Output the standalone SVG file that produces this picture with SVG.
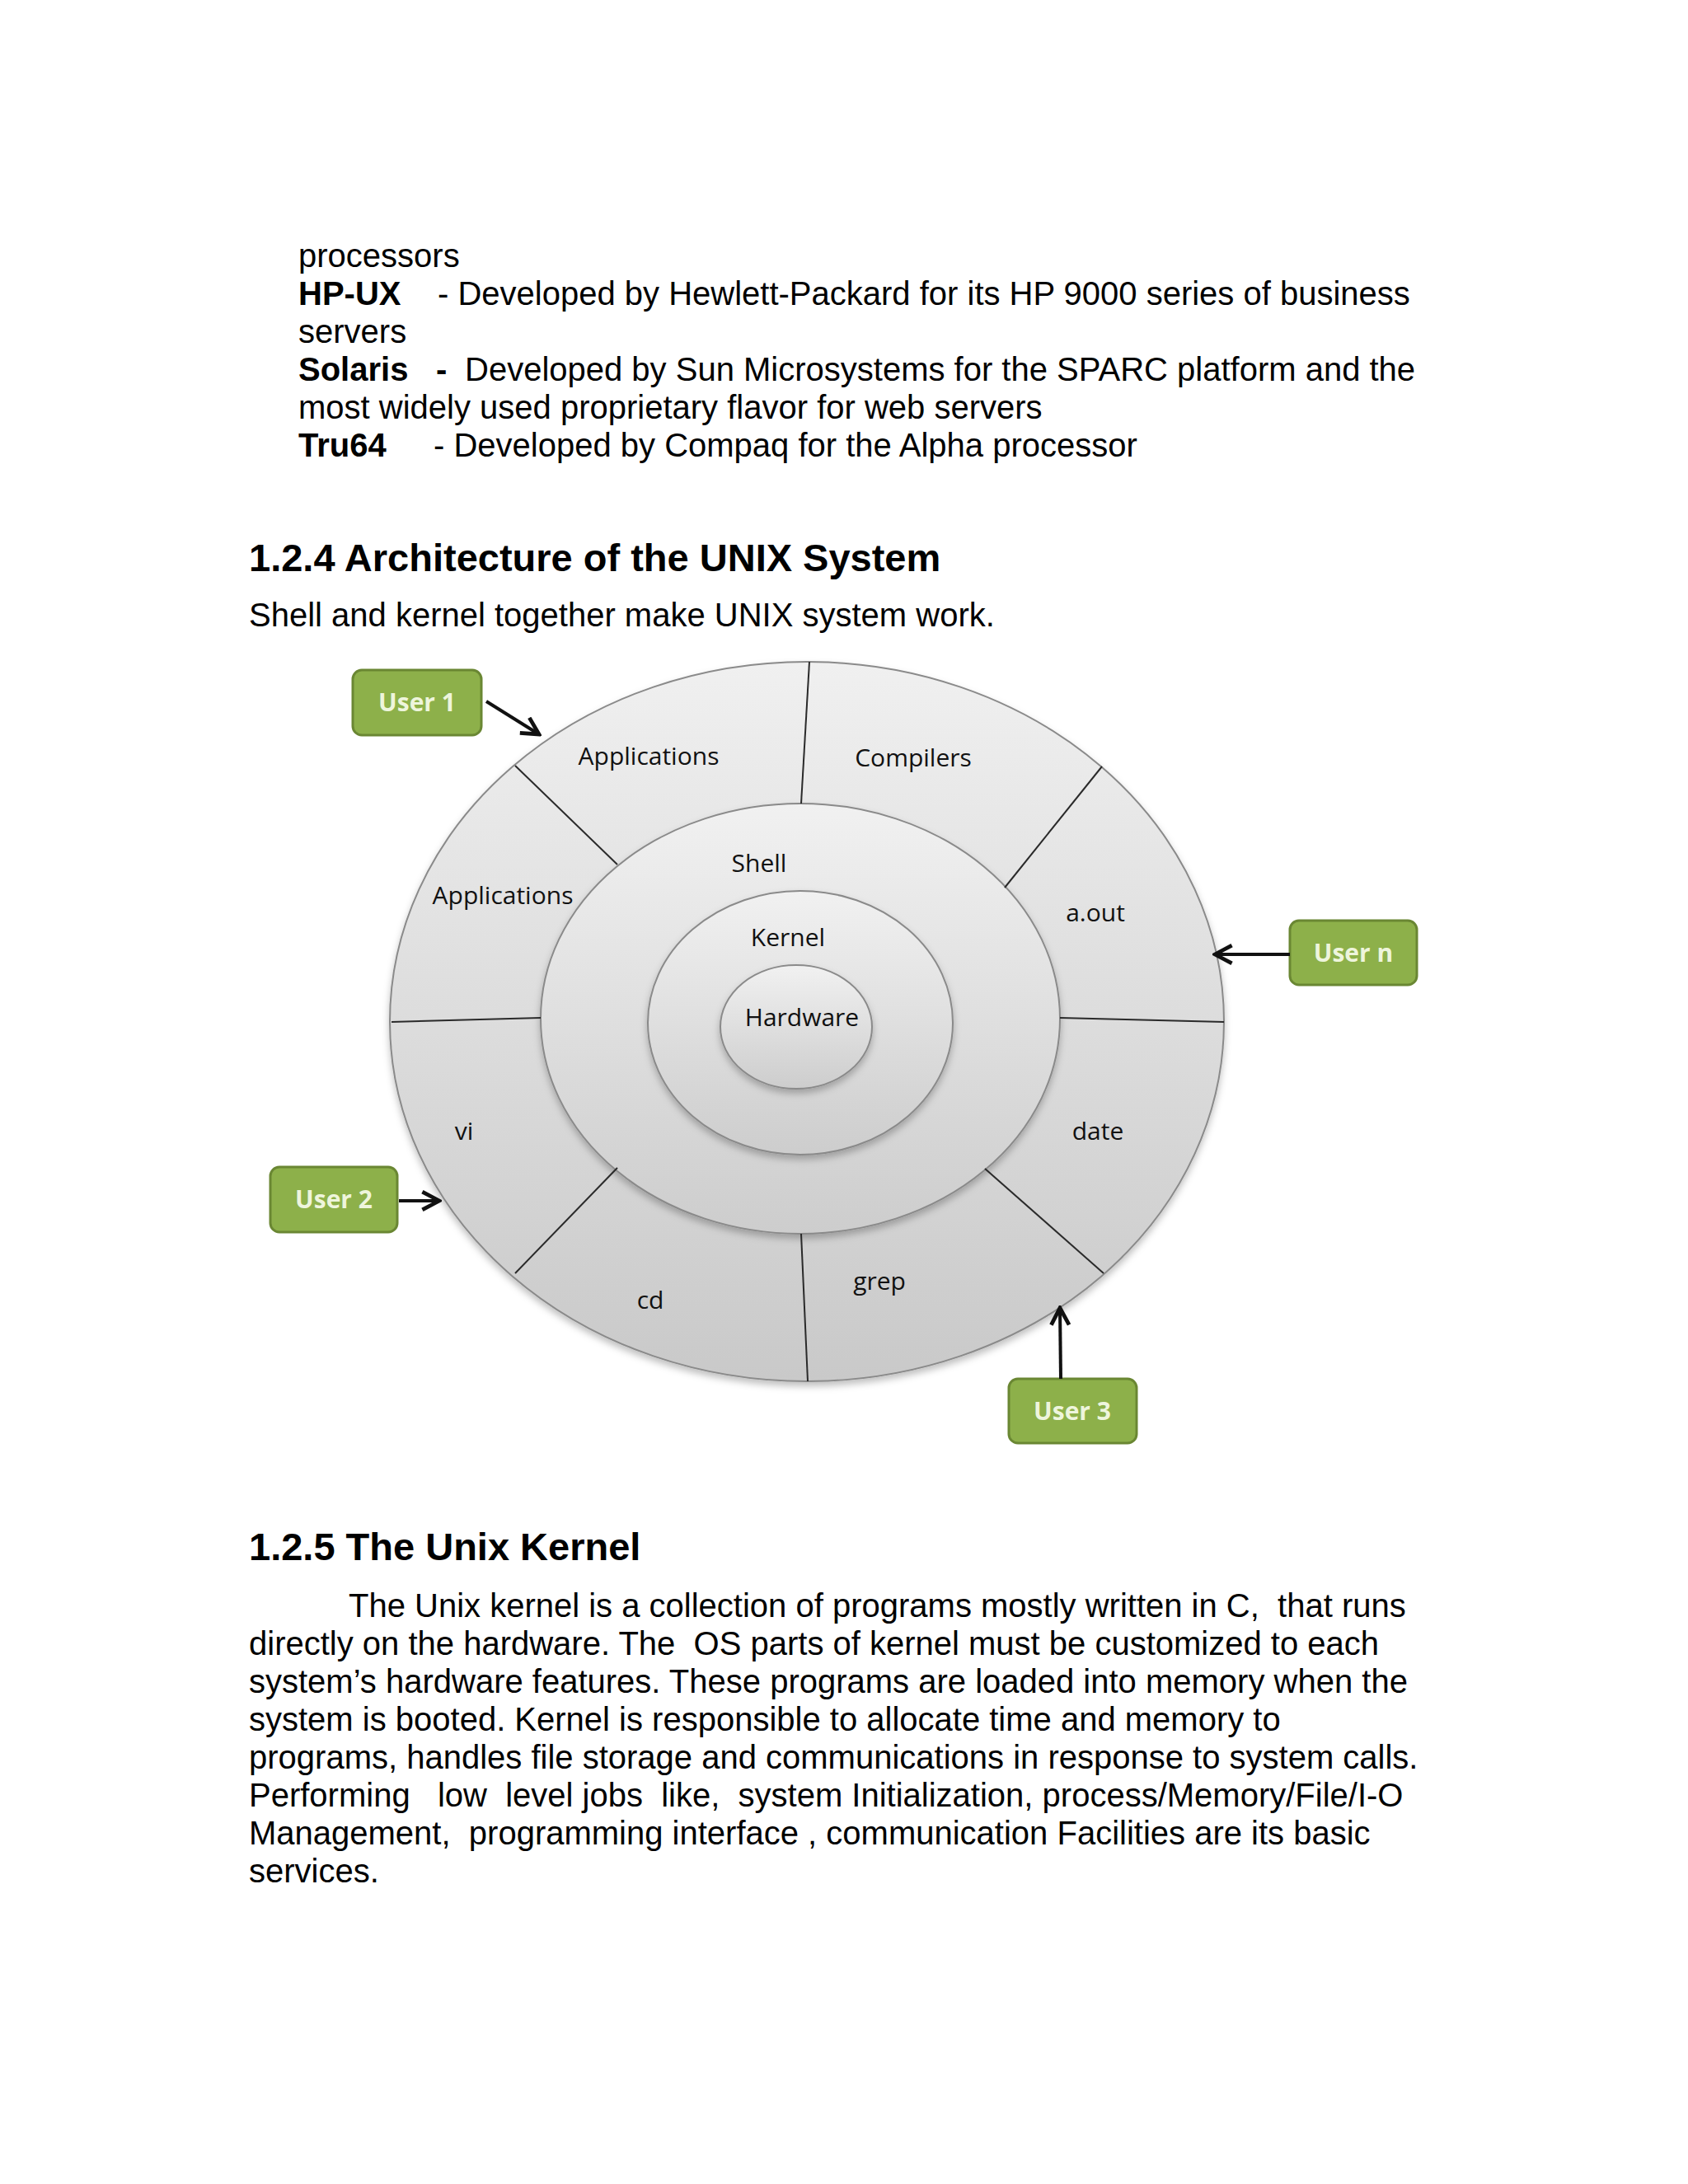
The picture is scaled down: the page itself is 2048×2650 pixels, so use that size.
<svg xmlns="http://www.w3.org/2000/svg" width="2048" height="2650" viewBox="0 0 2048 2650">
<defs>
<style>
.body{font-family:"Liberation Sans",Arial,sans-serif;font-size:40px;fill:#000;white-space:pre}
.b{font-weight:bold}
.h{font-family:"Liberation Sans",Arial,sans-serif;font-size:47px;font-weight:bold;fill:#000}
.lbl{font-family:"Open Sans","Liberation Sans",sans-serif;font-size:30px;fill:#111;text-anchor:middle}
.ulbl{font-family:"Open Sans","Liberation Sans",sans-serif;font-size:30px;font-weight:bold;fill:#eef5dc;text-anchor:middle}
.ubox{fill:#8db04a;stroke:#6a8733;stroke-width:3}
.ring{stroke:#8a8a8a;stroke-width:2}
.div{stroke:#2a2a2a;stroke-width:2;fill:none}
.conn{stroke:#111;stroke-width:4;fill:none;marker-end:url(#arr)}
</style>
<linearGradient id="gOuter" x1="0" y1="0" x2="0" y2="1">
<stop offset="0" stop-color="#f0f0f0"/><stop offset="1" stop-color="#c9c9c9"/>
</linearGradient>
<linearGradient id="gRing" x1="0" y1="0" x2="0" y2="1">
<stop offset="0" stop-color="#f1f1f1"/><stop offset="1" stop-color="#cdcdcd"/>
</linearGradient>
<filter id="sh" x="-10%" y="-10%" width="120%" height="125%">
<feDropShadow dx="0" dy="5" stdDeviation="4" flood-color="#000" flood-opacity="0.25"/>
</filter>
<marker id="arr" viewBox="0 0 12 12" refX="10.5" refY="6" markerWidth="6.5" markerHeight="6.5" orient="auto" markerUnits="strokeWidth">
<path d="M1,1 L10.5,6 L1,11" fill="none" stroke="#111" stroke-width="2.2"/>
</marker>
</defs>
<rect width="2048" height="2650" fill="#ffffff"/>

<g id="text-top" xml:space="preserve">
<text class="body" x="362" y="324">processors</text>
<text class="body" y="370"><tspan class="b" x="362">HP-UX</tspan><tspan x="531">- Developed by Hewlett-Packard for its HP 9000 series of business</tspan></text>
<text class="body" x="362" y="416">servers</text>
<text class="body" y="462"><tspan class="b" x="362">Solaris</tspan><tspan class="b" x="529">-</tspan><tspan x="564">Developed by Sun Microsystems for the SPARC platform and the</tspan></text>
<text class="body" x="362" y="508">most widely used proprietary flavor for web servers</text>
<text class="body" y="554"><tspan class="b" x="362">Tru64</tspan><tspan x="526">- Developed by Compaq for the Alpha processor</tspan></text>
<text class="h" x="302" y="693">1.2.4 Architecture of the UNIX System</text>
<text class="body" x="302" y="760">Shell and kernel together make UNIX system work.</text>
</g>

<g id="outer-ring">
<ellipse class="ring" cx="979" cy="1239.5" rx="506" ry="436.5" fill="url(#gOuter)" filter="url(#sh)"/>
</g>
<g id="shell">
<ellipse class="ring" cx="971" cy="1236" rx="315" ry="261" fill="url(#gRing)" filter="url(#sh)"/>
</g>
<g id="kernel">
<ellipse class="ring" cx="971" cy="1241" rx="185" ry="160" fill="url(#gRing)" filter="url(#sh)"/>
</g>
<g id="hardware">
<ellipse class="ring" cx="966" cy="1246" rx="92" ry="75" fill="url(#gRing)" filter="url(#sh)"/>
</g>

<g id="dividers">
<line class="div" x1="982" y1="803" x2="972" y2="975"/>
<line class="div" x1="625" y1="929" x2="749" y2="1049"/>
<line class="div" x1="475" y1="1240" x2="656" y2="1235"/>
<line class="div" x1="625" y1="1545" x2="749" y2="1417"/>
<line class="div" x1="972" y1="1497" x2="980" y2="1676"/>
<line class="div" x1="1195" y1="1418" x2="1339" y2="1545"/>
<line class="div" x1="1286" y1="1235" x2="1485" y2="1240"/>
<line class="div" x1="1219" y1="1077" x2="1337" y2="930"/>
</g>

<g id="labels">
<text class="lbl" x="787" y="928">Applications</text>
<text class="lbl" x="1108" y="930">Compilers</text>
<text class="lbl" x="921" y="1058">Shell</text>
<text class="lbl" x="610" y="1097">Applications</text>
<text class="lbl" x="956" y="1148">Kernel</text>
<text class="lbl" x="973" y="1245">Hardware</text>
<text class="lbl" x="1329" y="1118">a.out</text>
<text class="lbl" x="563" y="1383">vi</text>
<text class="lbl" x="1332" y="1383">date</text>
<text class="lbl" x="789" y="1588">cd</text>
<text class="lbl" x="1067" y="1565">grep</text>
</g>

<g id="user1">
<rect class="ubox" x="428" y="813" width="156" height="79" rx="11"/>
<text class="ulbl" x="506" y="863">User 1</text>
</g>
<g id="usern">
<rect class="ubox" x="1565" y="1117" width="154" height="78" rx="11"/>
<text class="ulbl" x="1642" y="1167">User n</text>
</g>
<g id="user2">
<rect class="ubox" x="328" y="1416" width="154" height="79" rx="11"/>
<text class="ulbl" x="405" y="1466">User 2</text>
</g>
<g id="user3">
<rect class="ubox" x="1224" y="1673" width="155" height="78" rx="11"/>
<text class="ulbl" x="1301" y="1723">User 3</text>
</g>

<g id="connectors">
<line class="conn" x1="590" y1="851" x2="654" y2="891"/>
<line class="conn" x1="1565" y1="1158" x2="1474" y2="1158"/>
<line class="conn" x1="484" y1="1457" x2="533" y2="1457"/>
<line class="conn" x1="1287" y1="1673" x2="1286" y2="1587"/>
</g>

<g id="text-bottom" xml:space="preserve">
<text class="h" x="302" y="1893">1.2.5 The Unix Kernel</text>
<text class="body" x="423" y="1962">The Unix kernel is a collection of programs mostly written in C,  that runs</text>
<text class="body" x="302" y="2008">directly on the hardware. The  OS parts of kernel must be customized to each</text>
<text class="body" x="302" y="2054">system’s hardware features. These programs are loaded into memory when the</text>
<text class="body" x="302" y="2100">system is booted. Kernel is responsible to allocate time and memory to</text>
<text class="body" x="302" y="2146">programs, handles file storage and communications in response to system calls.</text>
<text class="body" x="302" y="2192">Performing   low  level jobs  like,  system Initialization, process/Memory/File/I-O</text>
<text class="body" x="302" y="2238">Management,  programming interface , communication Facilities are its basic</text>
<text class="body" x="302" y="2284">services.</text>
</g>
</svg>
